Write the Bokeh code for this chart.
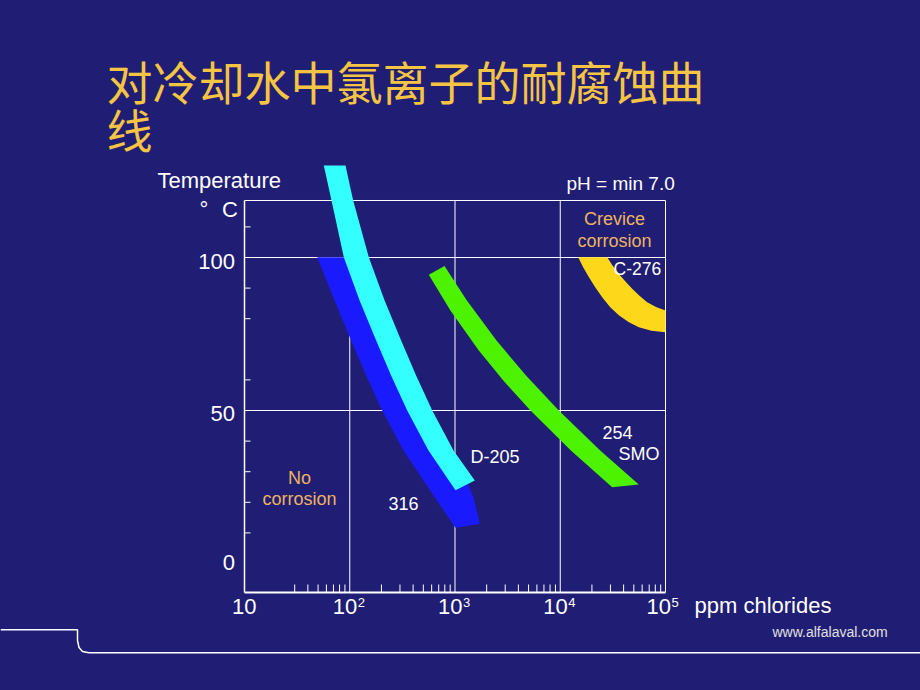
import math
from bokeh.plotting import figure
from bokeh.models import Range1d, Label
from bokeh.embed import file_html
from bokeh.resources import INLINE

BG = "#201E74"

# ---------------- data ----------------
title_lines = ["对冷却水中氯离子的耐腐蚀曲", "线"]
x_ticks = [10, 100, 1000, 10000, 100000]
x_tick_base = ["10", "10", "10", "10", "10"]
x_tick_exp = ["", "2", "3", "4", "5"]
x_minor = [30, 40, 50, 60, 70, 80, 90,
           200, 300, 400, 500, 600, 700, 800, 900,
           2000, 3000, 4000, 5000, 6000, 7000, 8000, 9000,
           20000, 30000, 40000, 50000, 60000, 70000, 80000, 90000]
y_ticks = [0, 50, 100]
y_tick_labels = ["0", "50", "100"]
y_minor = [10, 20, 30, 40, 60, 80, 90, 110]
grid_x = [100, 1000, 10000]
grid_y = [50, 100]
x_min, x_max = 10, 100000
y_min, y_max = -9.48, 118.63

# D-205 band (edges: ppm, temperature)
d205_left_ppm = [56.7, 67.1, 87.8, 123.8, 175.7, 247.1, 351.4, 560.1, 1011]
d205_left_temp = [130.1, 118.6, 100.1, 86.0, 73.4, 61.4, 50.0, 36.9, 23.9]
d205_right_ppm = [91.1, 107.8, 151.7, 213.9, 303.5, 426.9, 607.5, 967.8, 1542]
d205_right_temp = [130.1, 118.6, 100.1, 86.0, 73.4, 61.4, 50.0, 36.9, 27.1]
# 316 band
s316_left_ppm = [49.1, 71.6, 101.7, 143.0, 203.4, 324.1, 578.7, 1011]
s316_left_temp = [100.1, 86.0, 73.4, 61.4, 50.0, 36.9, 23.9, 11.7]
s316_right_ppm = [91.1, 129.3, 183.5, 260.4, 377.7, 667.2, 1286, 1499, 1720]
s316_right_temp = [100.1, 86.0, 73.4, 61.4, 50.0, 36.9, 27.1, 21.6, 13.0]
# 254 SMO band
smo_left_ppm = [563.7, 904.4, 1683, 2877, 5216, 12624, 31160]
smo_left_temp = [94.4, 82.7, 69.6, 59.8, 50.0, 36.9, 24.9]
smo_right_ppm = [794.9, 1292, 2479, 4727, 9688, 23963, 55760]
smo_right_temp = [97.2, 86.0, 72.9, 61.4, 50.0, 36.9, 25.8]
# C-276 band
c276_outer_ppm = [14812, 16451, 18670, 21484, 25033, 29704, 36004, 44503,
                  55760, 73630, 100000]
c276_outer_temp = [100.1, 96.9, 93.6, 90.3, 87.0, 83.8, 81.1, 78.9,
                   77.2, 76.1, 75.6]
c276_inner_ppm = [27930, 31367, 36004, 41409, 48273, 56620, 67010, 81237, 100000]
c276_inner_temp = [100.1, 97.4, 94.7, 92.2, 89.8, 87.5, 85.4, 83.8, 82.7]

# ---------------- page geometry (pixels) ----------------
W, H = 920, 690
AX_L, AX_R = 244, 665          # pixel positions of 10 and 1e5
Y0_PX, PX_PER_DEG = 563.0, 3.06
DEC = (AX_R - AX_L) / 4.0


def px_x(x):
    return 10 ** (1 + (x - AX_L) / DEC)


def px_y(y):
    return (Y0_PX - y) / PX_PER_DEG


# the frame covers the whole slide, so nothing is clipped
p = figure(width=W, height=H, output_backend="svg", toolbar_location=None,
           x_axis_type="log", x_range=Range1d(px_x(0), px_x(W)),
           y_range=Range1d(px_y(H), px_y(0)),
           x_axis_location=None, y_axis_location=None,
           min_border=0, background_fill_color=BG, border_fill_color=BG,
           outline_line_color=None)
p.title.visible = False
p.xgrid.visible = False
p.ygrid.visible = False

FONT = "Liberation Sans"

# grid lines and box
p.segment(x0=grid_x, x1=grid_x, y0=[y_min] * 3, y1=[y_max] * 3,
          line_color="white", line_width=1)
p.segment(x0=[x_min] * 2, x1=[x_max] * 2, y0=grid_y, y1=grid_y,
          line_color="white", line_width=1)
p.segment(x0=[x_min], x1=[x_max], y0=[y_max], y1=[y_max],
          line_color="white", line_width=1)
p.segment(x0=[x_max], x1=[x_max], y0=[y_min], y1=[y_max],
          line_color="white", line_width=1)


def band(lx, ly, rx, ry, color):
    p.patch(lx + rx[::-1], ly + ry[::-1], fill_color=color, line_color=None)


band(s316_left_ppm, s316_left_temp, s316_right_ppm, s316_right_temp, "#1A1AFF")
band(d205_left_ppm, d205_left_temp, d205_right_ppm, d205_right_temp, "#33FFFF")
band(smo_left_ppm, smo_left_temp, smo_right_ppm, smo_right_temp, "#4DF200")
band(c276_outer_ppm, c276_outer_temp, c276_inner_ppm, c276_inner_temp, "#FDD71A")

# axes
p.segment(x0=[x_min], x1=[x_max], y0=[y_min], y1=[y_min],
          line_color="white", line_width=2)
p.segment(x0=[x_min], x1=[x_min], y0=[y_min], y1=[y_max],
          line_color="white", line_width=1.5)
p.ray(x=x_minor, y=[y_min] * len(x_minor), length=8, length_units="screen",
      angle=math.pi / 2, line_color="white", line_width=1)
p.ray(x=[x_min] * len(y_minor), y=y_minor, length=6, length_units="screen",
      angle=0, line_color="white", line_width=1)
p.text(x=x_ticks, y=[y_min] * 5, text=x_tick_base,
       x_offset=[12, 7.5, 7.5, 7.5, 5.5], y_offset=14,
       text_align="right", text_baseline="middle", text_color="white",
       text_font={"value": FONT}, text_font_size="22px")
p.text(x=x_ticks, y=[y_min] * 5, text=x_tick_exp,
       x_offset=[12, 8, 8, 8, 6], y_offset=10,
       text_align="left", text_baseline="middle", text_color="white",
       text_font={"value": FONT}, text_font_size="13px")
p.text(x=[x_min] * 3, y=y_ticks, text=y_tick_labels,
       x_offset=-9.5, y_offset=[-1, 3, 4],
       text_align="right", text_baseline="middle", text_color="white",
       text_font={"value": FONT}, text_font_size="22px")


def lab(text, x, y, size, color="white", align="left", font=FONT):
    p.add_layout(Label(x=px_x(x), y=px_y(y), text=text, text_font=font,
                       text_font_size=f"{size}px", text_color=color,
                       text_align=align, text_baseline="middle"))


GOLD = "#F5C443"
ORANGE = "#EDB35E"
lab(title_lines[0], 106, 79, 46, GOLD, font="Noto Sans CJK SC")
lab(title_lines[1], 106, 127, 46, GOLD, font="Noto Sans CJK SC")
lab("Temperature", 157, 180, 22)
lab("°", 203.5, 209, 22, align="center")
lab("C", 221.5, 209, 22)
lab("pH = min 7.0", 566, 183, 19)
lab("Crevice", 614, 218, 18, ORANGE, align="center")
lab("corrosion", 614, 240, 18, ORANGE, align="center")
lab("C-276", 613, 268, 17.5)
lab("No", 299, 477, 18, ORANGE, align="center")
lab("corrosion", 299, 498, 18, ORANGE, align="center")
lab("316", 388, 503, 18)
lab("D-205", 470, 456, 18)
lab("254", 602, 432, 18)
lab("SMO", 618, 453, 18)
lab("ppm chlorides", 694, 605, 22)
lab("www.alfalaval.com", 772, 631, 14, "#E0E0E0")

# slide decoration line
deco_px = [(0, 629.3), (77, 629.3), (77, 640), (78.5, 647), (82, 651),
           (88.5, 652.3), (920, 652.3)]
p.line(x=[px_x(a) for a, b in deco_px], y=[px_y(b) for a, b in deco_px],
       line_color="white", line_width=1.5)

html = file_html(p, INLINE)
html = html.replace("</head>",
                    "<style>html,body{background:%s;margin:0;padding:0;overflow:hidden;}</style></head>" % BG, 1)
open("out.html", "w").write(html)
